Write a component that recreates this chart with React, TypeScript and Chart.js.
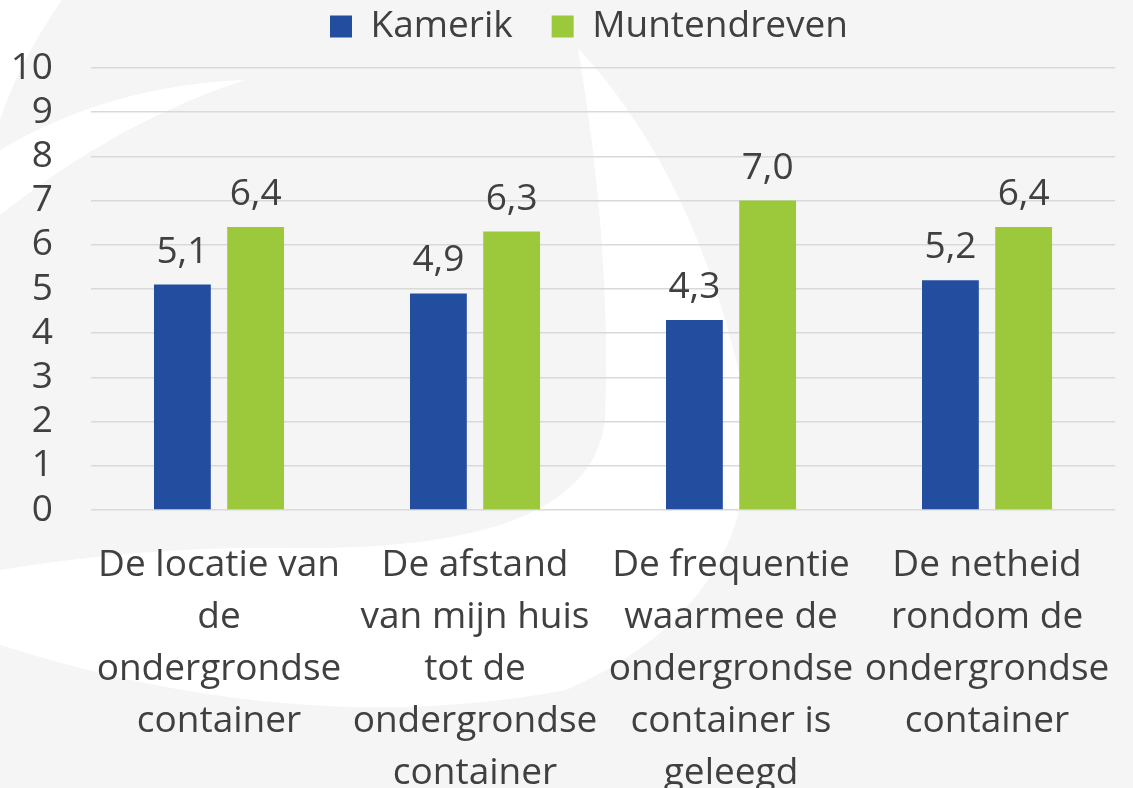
import React, { useEffect, useRef } from "react";
import { Chart, registerables } from "chart.js";

Chart.register(...registerables);

const categories: string[][] = [
  ["De locatie van", "de", "ondergrondse", "container"],
  ["De afstand", "van mijn huis", "tot de", "ondergrondse", "container"],
  ["De frequentie", "waarmee de", "ondergrondse", "container is", "geleegd"],
  ["De netheid", "rondom de", "ondergrondse", "container"],
];
const kamerik: number[] = [5.1, 4.9, 4.3, 5.2];
const muntendreven: number[] = [6.4, 6.3, 7.0, 6.4];
const seriesNames: string[] = ["Kamerik", "Muntendreven"];
const seriesColors: string[] = ["#234ea0", "#9bc93b"];

const FONT = "'Open Sans', sans-serif";
const TEXT = "#404040";

const bgPlugin = {
  id: "bg",
  beforeDraw(chart: any) {
    const ctx = chart.ctx;
    ctx.save();
    ctx.fillStyle = "#f5f5f5";
    ctx.fillRect(0, 0, chart.width, chart.height);
    ctx.fillStyle = "#ffffff";
    // central crescent sweeping into the lower band
    ctx.beginPath();
    ctx.moveTo(578, 48);
    ctx.quadraticCurveTo(700, 180, 745, 400);
    ctx.quadraticCurveTo(770, 600, 566, 690);
    ctx.quadraticCurveTo(300, 740, 0, 645);
    ctx.lineTo(0, 570);
    ctx.quadraticCurveTo(150, 545, 300, 548);
    ctx.quadraticCurveTo(590, 550, 605, 420);
    ctx.quadraticCurveTo(612, 250, 578, 48);
    ctx.closePath();
    ctx.fill();
    // upper-left diagonal band
    ctx.beginPath();
    ctx.moveTo(0, 150);
    ctx.quadraticCurveTo(110, 85, 245, 80);
    ctx.quadraticCurveTo(120, 120, 0, 215);
    ctx.closePath();
    ctx.fill();
    // top-left corner wedge
    ctx.beginPath();
    ctx.moveTo(0, 0);
    ctx.lineTo(62, 0);
    ctx.quadraticCurveTo(20, 60, 0, 120);
    ctx.closePath();
    ctx.fill();
    ctx.restore();
  },
};

const legendPlugin = {
  id: "legendShift",
  beforeInit(chart: any) {
    const lg = chart.legend;
    if (!lg) return;
    const origFit = lg.fit;
    lg.fit = function () {
      origFit.call(this);
      this.height += 10;
    };
    const origDraw = lg.draw;
    lg.draw = function () {
      const ctx = this.ctx;
      ctx.save();
      ctx.translate(29, -3);
      origDraw.call(this);
      ctx.restore();
    };
  },
};

const labelPlugin = {
  id: "valueLabels",
  afterDatasetsDraw(chart: any) {
    const ctx = chart.ctx;
    ctx.save();
    ctx.font = `37px ${FONT}`;
    ctx.fillStyle = TEXT;
    ctx.textAlign = "center";
    ctx.textBaseline = "alphabetic";
    chart.data.datasets.forEach((ds: any, di: number) => {
      const meta = chart.getDatasetMeta(di);
      meta.data.forEach((bar: any, i: number) => {
        const v = ds.data[i] as number;
        ctx.fillText(v.toFixed(1).replace(".", ","), bar.x, bar.y - 22);
      });
    });
    ctx.restore();
  },
};

export default function App() {
  const ref = useRef<HTMLCanvasElement | null>(null);
  useEffect(() => {
    if (!ref.current) return;
    const chart = new Chart(ref.current, {
      type: "bar",
      data: {
        labels: categories,
        datasets: [
          {
            label: seriesNames[0],
            data: kamerik,
            backgroundColor: seriesColors[0],
            categoryPercentage: 0.572,
            barPercentage: 0.776,
          },
          {
            label: seriesNames[1],
            data: muntendreven,
            backgroundColor: seriesColors[1],
            categoryPercentage: 0.572,
            barPercentage: 0.776,
          },
        ],
      },
      options: {
        responsive: false,
        animation: false,
        layout: { padding: { top: -28, right: 13, left: 0, bottom: 0 } },
        plugins: {
          tooltip: { enabled: false },
          legend: {
            position: "top",
            labels: {
              font: { family: FONT, size: 37 },
              color: TEXT,
              boxWidth: 22,
              boxHeight: 22,
              padding: 39,
            },
          },
        },
        scales: {
          x: {
            grid: { display: false },
            border: { display: false },
            ticks: {
              color: TEXT,
              font: { family: FONT, size: 37, lineHeight: 1.4 },
              maxRotation: 0,
              autoSkip: false,
              padding: 22,
            },
            afterFit(scale: any) {
              scale.height = 278;
            },
          },
          y: {
            min: 0,
            max: 10,
            grid: { color: "#d9d9d9", lineWidth: 1.5, drawTicks: false },
            border: { display: false },
            ticks: {
              stepSize: 1,
              autoSkip: false,
              color: TEXT,
              font: { family: FONT, size: 37 },
              padding: 38,
            },
            afterFit(scale: any) {
              scale.width = 91;
            },
          },
        },
      },
      plugins: [bgPlugin, legendPlugin, labelPlugin],
    });
    return () => chart.destroy();
  }, []);
  return (
    <div style={{ position: "absolute", left: 0, top: 0, width: 1133, height: 788, overflow: "hidden" }}>
      <canvas ref={ref} width={1133} height={788} style={{ display: "block" }} />
    </div>
  );
}
